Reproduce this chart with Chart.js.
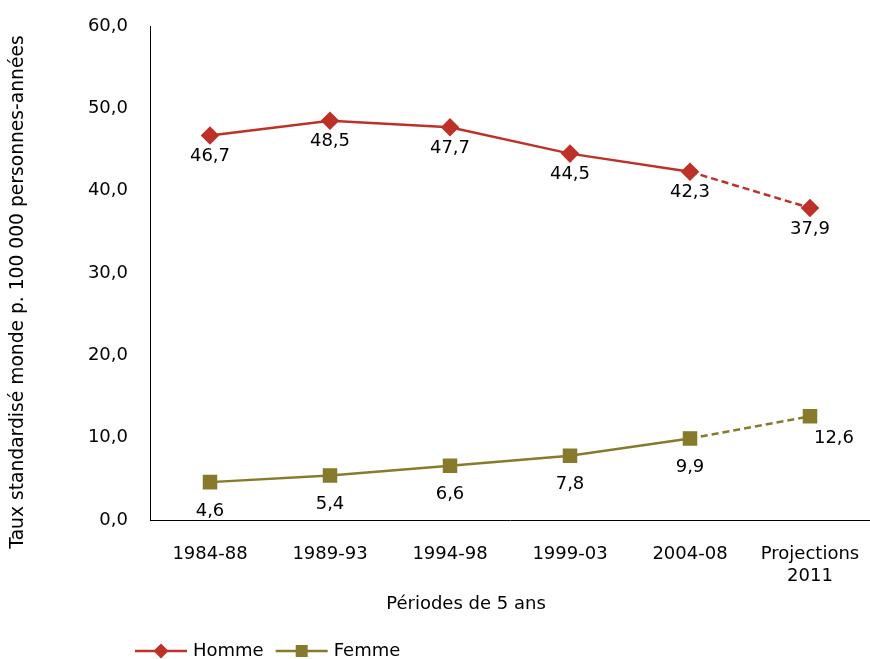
<!DOCTYPE html>
<html>
<head>
<meta charset="utf-8">
<script src="https://cdn.jsdelivr.net/npm/chart.js@4.4.1/dist/chart.umd.min.js"></script>
<style>
  html, body { margin: 0; padding: 0; background: #fff; overflow: hidden; }
  #wrap { width: 870px; height: 659px; }
  canvas { display: block; }
</style>
</head>
<body>
<div id="wrap"><canvas id="tauxChart" width="870" height="659"></canvas></div>
<script>
// Periods (the last one is a projection, drawn dashed)
const periodes = ['1984-88', '1989-93', '1994-98', '1999-03', '2004-08', ['Projections', '2011']];
const homme = [46.7, 48.5, 47.7, 44.5, 42.3, 37.9];
const femme = [4.6, 5.4, 6.6, 7.8, 9.9, 12.6];
const yTicks = [0, 10, 20, 30, 40, 50, 60];
const yTitre = 'Taux standardisé monde p. 100 000 personnes-années';
const xTitre = 'Périodes de 5 ans';

const FONT = '"DejaVu Sans", sans-serif';
const rouge = '#BE3128';
const olive = '#877A2B';
const lastIdx = periodes.length - 1;

function fr(v) {
  return v.toFixed(1).replace('.', ',');
}

// dash only the segment leading to the projection
const projDash = ctx => ctx.p1DataIndex === lastIdx ? [7, 4] : undefined;

// value labels under each point
const valueLabels = {
  id: 'valueLabels',
  afterDatasetsDraw(chart) {
    const ctx = chart.ctx;
    ctx.save();
    ctx.font = '18px ' + FONT;
    ctx.fillStyle = '#000';
    ctx.textAlign = 'center';
    ctx.textBaseline = 'middle';
    chart.data.datasets.forEach((ds, i) => {
      const meta = chart.getDatasetMeta(i);
      meta.data.forEach((pt, j) => {
        const off = ds.labelOffset(j);
        ctx.fillText(fr(ds.data[j]), pt.x + off[0], pt.y + off[1]);
      });
    });
    ctx.restore();
  }
};

// axis titles, placed by hand (neither is centred on the plot area)
const axisTitles = {
  id: 'axisTitles',
  afterDraw(chart) {
    const ctx = chart.ctx;
    ctx.save();
    ctx.fillStyle = '#000';
    ctx.textAlign = 'center';
    ctx.textBaseline = 'middle';
    ctx.font = '18px ' + FONT;
    ctx.fillText(xTitre, 466, 604);
    ctx.translate(18, 292);
    ctx.rotate(-Math.PI / 2);
    ctx.font = '18.7px ' + FONT;
    ctx.fillText(yTitre, 0, 0);
    ctx.restore();
  }
};

// legend drawn as line + marker + text, like the office style
const lineLegend = {
  id: 'lineLegend',
  afterDraw(chart) {
    const ctx = chart.ctx;
    const y = 651;
    let x = 135;
    ctx.save();
    ctx.font = '18px ' + FONT;
    ctx.textBaseline = 'middle';
    chart.data.datasets.forEach(ds => {
      ctx.strokeStyle = ds.borderColor;
      ctx.lineWidth = 2.5;
      ctx.beginPath();
      ctx.moveTo(x, y);
      ctx.lineTo(x + 52, y);
      ctx.stroke();
      ctx.fillStyle = ds.pointBackgroundColor;
      ctx.strokeStyle = ds.pointBackgroundColor;
      Chart.helpers.drawPoint(ctx, {
        pointStyle: ds.pointStyle, radius: ds.pointRadius, rotation: 0, borderWidth: 0
      }, x + 26, y);
      ctx.fillStyle = '#000';
      ctx.fillText(ds.label, x + 58, y);
      x += 58 + ctx.measureText(ds.label).width + 12;
    });
    ctx.restore();
  }
};

new Chart(document.getElementById('tauxChart'), {
  type: 'line',
  data: {
    labels: periodes,
    datasets: [
      {
        label: 'Homme',
        data: homme,
        borderColor: rouge,
        backgroundColor: rouge,
        pointBackgroundColor: rouge,
        pointBorderColor: rouge,
        borderWidth: 2.5,
        pointStyle: 'rectRot',
        pointRadius: 7.5,
        pointHoverRadius: 7.5,
        tension: 0,
        segment: { borderDash: projDash },
        labelOffset: j => [0, 21]
      },
      {
        label: 'Femme',
        data: femme,
        borderColor: olive,
        backgroundColor: olive,
        pointBackgroundColor: olive,
        pointBorderColor: olive,
        borderWidth: 2.5,
        pointStyle: 'rect',
        pointRadius: 8.5,
        pointHoverRadius: 8.5,
        tension: 0,
        segment: { borderDash: projDash },
        labelOffset: j => j === lastIdx ? [24, 22] : [0, 29]
      }
    ]
  },
  options: {
    responsive: false,
    animation: false,
    layout: { autoPadding: false, padding: { top: 26, right: 0, bottom: 41, left: 0 } },
    plugins: {
      legend: { display: false },
      tooltip: { enabled: false }
    },
    scales: {
      x: {
        offset: true,
        grid: { display: false, drawTicks: false },
        border: { display: true, color: '#000', width: 1 },
        ticks: { color: '#000', font: { family: FONT, size: 18 }, padding: 24, maxRotation: 0 },
        afterFit(axis) {
          axis.height = 98;
          axis.paddingLeft = 0;
          axis.paddingRight = 0;
        }
      },
      y: {
        min: 0,
        max: 60,
        grid: { display: false, drawTicks: false },
        border: { display: true, color: '#000', width: 1 },
        afterBuildTicks(axis) { axis.ticks = yTicks.map(v => ({ value: v })); },
        ticks: { color: '#000', font: { family: FONT, size: 18 }, padding: 22, callback: v => fr(v) },
        afterFit(axis) {
          axis.width = 150;
          axis.paddingTop = 0;
          axis.paddingBottom = 0;
        }
      }
    }
  },
  plugins: [valueLabels, axisTitles, lineLegend]
});
</script>
</body>
</html>
